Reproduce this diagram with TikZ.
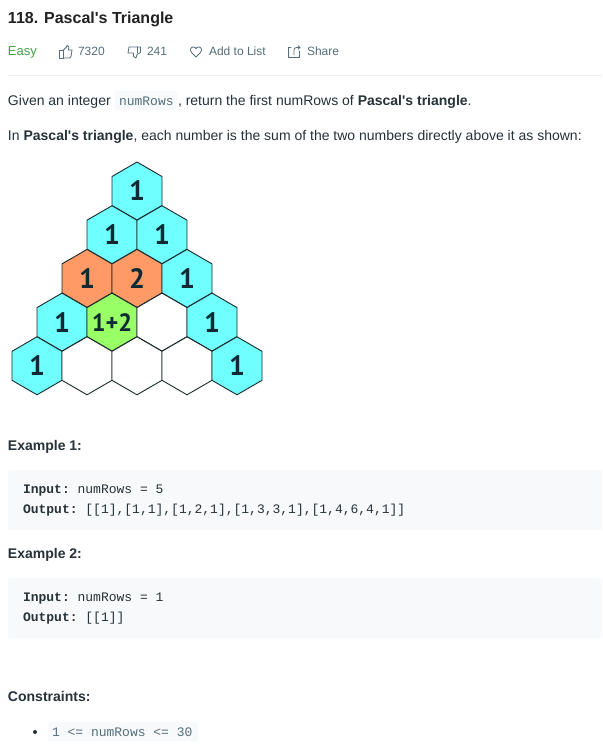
\documentclass[tikz,border=0pt]{standalone}
\usepackage{fontspec}
\setmainfont{Liberation Sans}
\setmonofont{Liberation Mono}
\newfontfamily\mainf{Liberation Sans}
\newfontfamily\hexfont{PT Sans}
\definecolor{ink}{HTML}{263238}
\definecolor{titleink}{HTML}{212121}
\definecolor{meta}{HTML}{546E7A}
\definecolor{easy}{HTML}{43A047}
\definecolor{rule}{HTML}{ECEFF1}
\definecolor{codebg}{HTML}{F7F9FA}
\definecolor{chipbg}{HTML}{F7F9FA}
\definecolor{hexline}{HTML}{1A2A2A}
\definecolor{hexcyan}{HTML}{6FFFFF}
\definecolor{hexorange}{HTML}{FF9966}
\definecolor{hexgreen}{HTML}{99FF66}
\definecolor{hexink}{HTML}{0F2A33}
\newcommand{\fs}[1]{\mainf\fontsize{#1}{#1}\selectfont}
\tikzset{
  x=1pt,y=-1pt,
  txt/.style={anchor=base west,inner sep=0pt,outer sep=0pt,text=ink},
  title/.style={txt,font=\fs{16}\bfseries,text=titleink},
  body/.style={txt,font=\fs{14}},
  heading/.style={txt,font=\fs{14}\bfseries},
  metatxt/.style={txt,font=\fs{12},text=meta},
  code/.style={txt,font=\fs{13}\ttfamily},
  chip/.style={code,text=meta},
  icon/.style={draw=meta,line width=0.8pt,line join=round,line cap=round},
  hexlabel/.style={inner sep=0pt,font=\fs{28}\hexfont\bfseries,text=hexink},
  hexsum/.style={inner sep=0pt,font=\fs{25}\hexfont\bfseries,text=hexink,xscale=0.97},
}
\newcommand{\hexcell}[4]{% row, col, fill, draw nothing else
  \pgfmathsetmacro{\hx}{137+50*#2-25*#1}
  \pgfmathsetmacro{\hy}{191+43.7*#1}
  \draw[fill=#3,draw=hexline,line width=0.9pt,line join=round]
    (\hx,\hy-29) -- (\hx+25,\hy-14.5) -- (\hx+25,\hy+14.5) -- (\hx,\hy+29)
    -- (\hx-25,\hy+14.5) -- (\hx-25,\hy-14.5) -- cycle;
  #4
}
\newcommand{\hex}[5]{\hexcell{#2}{#3}{#4}{\node[hexlabel] (#1) at (\hx,\hy) {#5};}}
\begin{document}
\begin{tikzpicture}
\useasboundingbox (0,0) rectangle (602,751);
\fill[white] (0,0) rectangle (602,751);

\node[title] (ttl) at (8,24) {118. Pascal's Triangle};
\node[txt,font=\fs{13},text=easy] (lvl) at (8,55.5) {Easy};

% thumbs up
\draw[icon] (59.5,50.5) -- (63,50.5) -- (63,58) -- (59.5,58) -- cycle;
\draw[icon] (63,50.5) -- (66.5,47) -- (67,45.5) .. controls (69,45.5) and (69.5,47.5) .. (68.5,50) -- (72,50) -- (71,56.5) -- (69.5,58) -- (63,58);
\node[metatxt] (ups) at (78,55.5) {7320};
% thumbs down
\draw[icon] (140.5,47) -- (129,47) -- (128,53) -- (133.5,53) .. controls (133,55.5) and (133.5,58) .. (136,58) -- (137,54.5) -- (140.5,52.5) -- cycle;
\draw[icon] (137,47) -- (137,53);
\node[metatxt] (downs) at (147,55.5) {241};
% heart
\draw[icon] (196,57) -- (191.5,52.5) .. controls (189,49.5) and (191.5,46.5) .. (193.5,47) .. controls (195,47) and (196,48) .. (196,49) .. controls (196,48) and (197,47) .. (198.5,47) .. controls (200.5,46.5) and (203,49.5) .. (200.5,52.5) -- cycle;
\node[metatxt] (add) at (209,55.5) {Add to List};
% share
\draw[icon] (291,47.5) -- (288.5,47.5) -- (288.5,57.5) -- (299.5,57.5) -- (299.5,51);
\draw[icon] (294,55) -- (294,50) .. controls (294,48.5) and (295,47.5) .. (296.5,47.5) -- (300,47.5);
\draw[icon] (298,45.8) -- (300,47.5) -- (298,49.2);
\node[metatxt] (shr) at (307,55.5) {Share};

\draw[rule,line width=1pt] (8,75.5) -- (602,75.5);

% intro
\node[body] (given) at (8,105.5) {Given an integer};
\fill[chipbg,rounded corners=2pt] (115,91) rectangle (177,110);
\node[chip] (chipa) at (119,105.5) {numRows};
\node[body] (givenb) at (178,105.5) {, return the first numRows of \textbf{Pascal's triangle}.};
\node[body] (intro) at (8,140.5) {In \textbf{Pascal's triangle}, each number is the sum of the two numbers directly above it as shown:};

% hexagons
\hex{h00}{0}{0}{hexcyan}{1}
\hex{h10}{1}{0}{hexcyan}{1}
\hex{h11}{1}{1}{hexcyan}{1}
\hex{h20}{2}{0}{hexorange}{1}
\hex{h21}{2}{1}{hexorange}{2}
\hex{h22}{2}{2}{hexcyan}{1}
\hex{h30}{3}{0}{hexcyan}{1}
\hexcell{3}{1}{hexgreen}{\node[hexsum] (h31) at (\hx,\hy) {1+2};}
\hex{h32}{3}{2}{white}{}
\hex{h33}{3}{3}{hexcyan}{1}
\hex{h40}{4}{0}{hexcyan}{1}
\hex{h41}{4}{1}{white}{}
\hex{h42}{4}{2}{white}{}
\hex{h43}{4}{3}{white}{}
\hex{h44}{4}{4}{hexcyan}{1}

% example 1
\node[heading] (exa) at (8,450) {Example 1:};
\fill[codebg,rounded corners=2pt] (8,470) rectangle (602,530);
\node[code] (ina) at (23,493) {\textbf{Input:} numRows = 5};
\node[code] (outa) at (23,513) {\textbf{Output:} [[1],[1,1],[1,2,1],[1,3,3,1],[1,4,6,4,1]]};

% example 2
\node[heading] (exb) at (8,558) {Example 2:};
\fill[codebg,rounded corners=2pt] (8,578) rectangle (602,638);
\node[code] (inb) at (23,601) {\textbf{Input:} numRows = 1};
\node[code] (outb) at (23,621.5) {\textbf{Output:} [[1]]};

% constraints
\node[heading] (con) at (8,701) {Constraints:};
\fill[ink] (35,732) circle (2pt);
\fill[chipbg,rounded corners=2pt] (48,722) rectangle (198,741);
\node[chip] (chipb) at (52,736) {1 <= numRows <= 30};
\end{tikzpicture}
\end{document}
